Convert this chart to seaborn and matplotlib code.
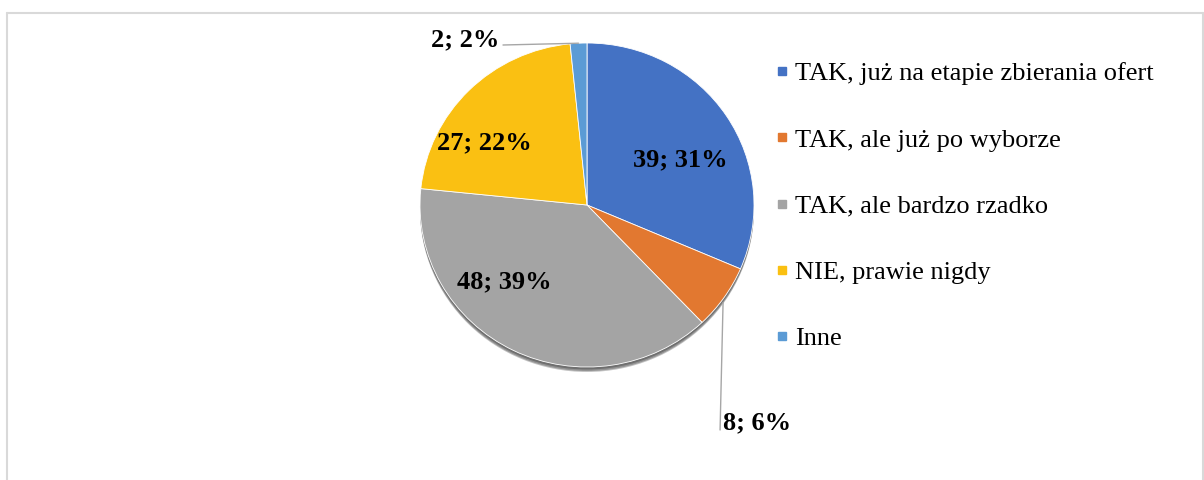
import matplotlib
matplotlib.use("Agg")
import numpy as np
import matplotlib.pyplot as plt
import seaborn as sns
from matplotlib.lines import Line2D
from matplotlib.patches import Ellipse

# Survey answers and their counts
categories = [
    "TAK, już na etapie zbierania ofert",
    "TAK, ale już po wyborze",
    "TAK, ale bardzo rzadko",
    "NIE, prawie nigdy",
    "Inne",
]
counts = [39, 8, 48, 27, 2]
slice_colors = ["#4472C4", "#E27830", "#A4A4A4", "#FAC012", "#5B9BD5"]

sns.set_theme(style="white")
plt.rcParams["font.family"] = ["Liberation Serif", "DejaVu Serif"]
plt.rcParams["text.color"] = "black"

W, H = 1204, 480
fig = plt.figure(figsize=(W / 100, H / 100), dpi=100)

# pie axes: unit pie, scaled so it fills a 334 x 324 px oval
ax = fig.add_axes([0, 0, 1, 1])
cx_px, cy_px = 587, 205          # centre in pixels (from the top)
rx_px, ry_px = 167, 162

palette = sns.color_palette(slice_colors)

# soft drop shadow under the pie
for off, a in [(5.0, 0.30), (4.0, 0.35), (2.5, 0.40)]:
    ax.add_patch(Ellipse((0, -off / ry_px), 2, 2, facecolor="#3a3a3a",
                         alpha=a, lw=0, zorder=0))

wedges, _ = ax.pie(
    counts, colors=palette, startangle=90, counterclock=False,
    center=(0, 0), radius=1,
    wedgeprops=dict(edgecolor="white", linewidth=0.6, zorder=1),
)
ax.set_aspect("auto")
ax.set_xlim(-cx_px / rx_px, (W - cx_px) / rx_px)
ax.set_ylim(-(H - cy_px) / ry_px, cy_px / ry_px)
ax.axis("off")

# overlay axes in pixel units (y downwards) for labels and leader lines
ov = fig.add_axes([0, 0, 1, 1], facecolor="none")
ov.set_xlim(0, W)
ov.set_ylim(H, 0)
ov.axis("off")


def edge_point(w):
    t = np.deg2rad((w.theta1 + w.theta2) / 2)
    disp = ax.transData.transform((np.cos(t), np.sin(t)))
    return ov.transData.inverted().transform(disp)


total = sum(counts)
labels = [f"{c}; {round(100 * c / total)}%" for c in counts]
label_font = dict(fontsize=19, fontweight="bold", color="black", zorder=5)

# labels placed inside their slices
inside = {0: (680, 160), 2: (504, 282), 3: (484, 143)}
for i, (x, y) in inside.items():
    ov.text(x, y, labels[i], ha="center", va="center", **label_font)

lead = dict(color="#A6A6A6", lw=1.0, zorder=4)

# "Inne" label with a leader line
ex, ey = edge_point(wedges[4])
ov.plot([503, ex], [45, ey], **lead)
ov.text(499, 40, labels[4], ha="right", va="center", **label_font)

# small orange slice label with a vertical leader line
ex, ey = edge_point(wedges[1])
ov.plot([ex - 1, ex - 4], [ey + 5, 430], **lead)
ov.text(ex - 1, 423, labels[1], ha="left", va="center", **label_font)

handles = [Line2D([0], [0], marker="s", linestyle="none", markersize=5.2,
                  markerfacecolor=c, markeredgecolor=c) for c in palette]
leg = fig.legend(handles, categories, loc="upper left",
                 bbox_to_anchor=(775 / W, 1 - 62 / H), frameon=False,
                 fontsize=19, labelspacing=1.62, handlelength=0.5,
                 handletextpad=0.27, borderpad=0, borderaxespad=0)
for t in leg.get_texts():
    t.set_color("black")

# light outer frame
fc = "#D9D9D9"
tf = fig.transFigure
fig.add_artist(Line2D([6.5 / W, 6.5 / W], [0, 1 - 12.5 / H], color=fc,
                      lw=1.5, transform=tf))
fig.add_artist(Line2D([6.5 / W, 1202.5 / W], [1 - 12.5 / H, 1 - 12.5 / H],
                      color=fc, lw=1.5, transform=tf))
fig.add_artist(Line2D([1202.5 / W, 1202.5 / W], [0, 1 - 12.5 / H], color=fc,
                      lw=1.5, transform=tf))

fig.savefig("out.png", dpi=100, facecolor="white")
